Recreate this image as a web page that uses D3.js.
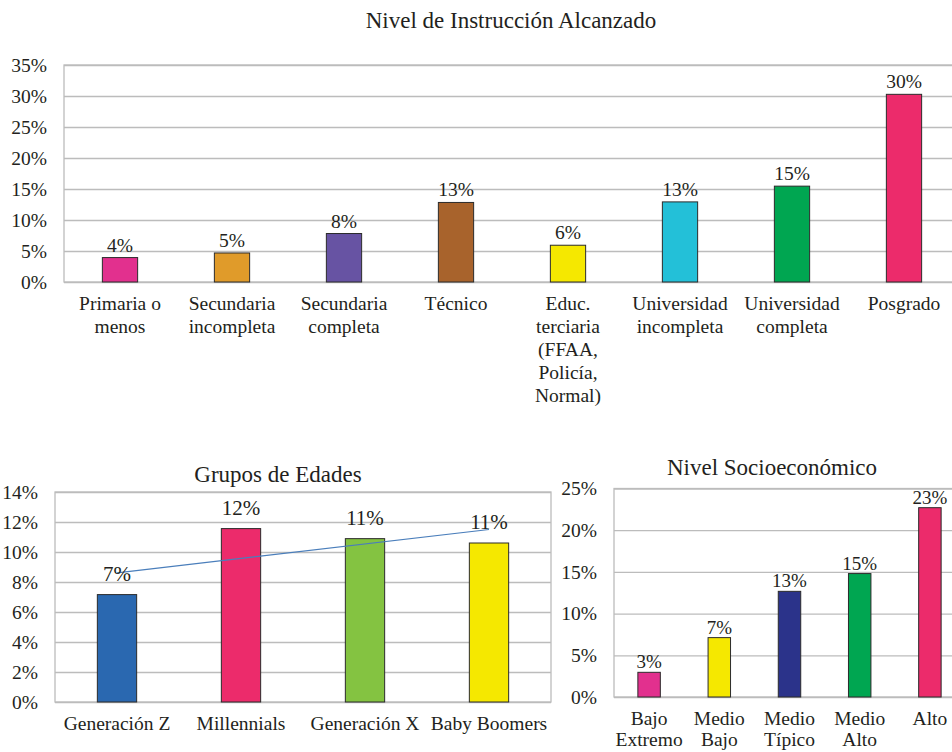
<!DOCTYPE html>
<html>

<head>
  <meta charset="utf-8">
  <title>Perfil de la muestra</title>
</head>

<style>
  body,
  html {
    margin: 0;
    padding: 0;
    background: #fff;
  }

  #svg {
    display: block;
  }
</style>

<body>

  <svg id="svg" width="952" height="752"></svg>

  <script src="https://d3js.org/d3.v7.min.js"></script>
  <script>

    // Nivel de Instrucción Alcanzado
    const eduCategories = ['Primaria o\nmenos', 'Secundaria\nincompleta', 'Secundaria\ncompleta', 'Técnico',
      'Educ.\nterciaria\n(FFAA,\nPolicía,\nNormal)', 'Universidad\nincompleta', 'Universidad\ncompleta', 'Posgrado']
    const eduValues = [0.0394, 0.0468, 0.0782, 0.1283, 0.0593, 0.1292, 0.1546, 0.3027]
    const eduColors = ['#e2308e', '#e09b2a', '#6753a3', '#a8632c', '#f5e800', '#23c0d8', '#00a651', '#ec2b6b']
    const eduMax = 0.35

    // Grupos de Edades
    const ageCategories = ['Generación Z', 'Millennials', 'Generación X', 'Baby Boomers']
    const ageValues = [0.0716, 0.1156, 0.1089, 0.1060]
    const ageColors = ['#2a68b0', '#ec2b6b', '#84c341', '#f5e800']
    const ageMax = 0.14

    // Nivel Socioeconómico
    const nseCategories = ['Bajo\nExtremo', 'Medio\nBajo', 'Medio\nTípico', 'Medio\nAlto', 'Alto']
    const nseValues = [0.0296, 0.0712, 0.1267, 0.1480, 0.2270]
    const nseColors = ['#e2308e', '#f5e800', '#2b338a', '#00a651', '#ec2b6b']
    const nseMax = 0.25

    const FONT = '"Liberation Serif"'
    const INK = '#231f20'

    const svg = d3.select('#svg')
    const pct = d3.format('.0%')

    function drawChart(o) {
      const g = svg.append('g')

      const x = d3.scaleBand()
        .domain(o.categories)
        .range([o.left, o.right])
        .paddingInner(o.pad)
        .paddingOuter(o.pad / 2)

      const y = d3.scaleLinear()
        .domain([0, o.max])
        .range([o.bottom, o.top])

      // gridlines + tick labels
      const axis = g.append('g')
        .attr('transform', `translate(${o.left},0)`)
        .call(d3.axisLeft(y)
          .ticks(o.ticks)
          .tickFormat(pct)
          .tickSizeInner(-(o.right - o.left))
          .tickSizeOuter(0)
          .tickPadding(17))
      axis.select('.domain').remove()
      axis.selectAll('line')
        .attr('stroke', '#bcbcbc')
        .attr('stroke-width', 1.3)
      axis.selectAll('text')
        .style('font-family', FONT)
        .style('font-size', o.tickSize + 'px')
        .attr('fill', INK)

      // plot border
      g.append('rect')
        .attr('x', o.left)
        .attr('y', o.top)
        .attr('width', o.right - o.left)
        .attr('height', o.bottom - o.top)
        .attr('fill', 'none')
        .attr('stroke', '#bcbcbc')
        .attr('stroke-width', 1.3)

      // bars
      g.selectAll('.bar')
        .data(o.values)
        .join('rect')
        .attr('class', 'bar')
        .attr('x', (d, i) => x(o.categories[i]))
        .attr('y', d => y(d))
        .attr('width', x.bandwidth())
        .attr('height', d => y(0) - y(d))
        .attr('fill', (d, i) => o.colors[i])
        .attr('stroke', '#2b2b2b')
        .attr('stroke-width', 1)

      // trend line (least squares over the category index)
      if (o.trend) {
        const n = o.values.length
        const mx = d3.mean(d3.range(n))
        const my = d3.mean(o.values)
        const slope = d3.sum(o.values, (v, i) => (i - mx) * (v - my)) / d3.sum(d3.range(n), i => (i - mx) * (i - mx))
        const b = my - slope * mx
        const cx = i => x(o.categories[i]) + x.bandwidth() / 2
        g.append('line')
          .attr('x1', cx(0))
          .attr('y1', y(b))
          .attr('x2', cx(n - 1))
          .attr('y2', y(b + slope * (n - 1)))
          .attr('stroke', '#4a7ebb')
          .attr('stroke-width', 1.2)
      }

      // value labels
      g.selectAll('.val')
        .data(o.values)
        .join('text')
        .attr('class', 'val')
        .attr('x', (d, i) => x(o.categories[i]) + x.bandwidth() / 2)
        .attr('y', d => y(d) - o.labelGap)
        .attr('text-anchor', 'middle')
        .attr('fill', INK)
        .style('font-family', FONT)
        .style('font-size', o.valueSize + 'px')
        .text(d => pct(d))

      // category labels (multi line)
      const cat = g.selectAll('.cat')
        .data(o.categories)
        .join('text')
        .attr('class', 'cat')
        .attr('text-anchor', 'middle')
        .attr('fill', INK)
        .style('font-family', FONT)
        .style('font-size', '19.5px')
        .attr('x', d => x(d) + x.bandwidth() / 2)
        .attr('y', o.bottom + 28)
      cat.selectAll('tspan')
        .data(d => d.split('\n').map(t => ({ t, c: d })))
        .join('tspan')
        .attr('x', d => x(d.c) + x.bandwidth() / 2)
        .attr('dy', (d, i) => i === 0 ? 0 : o.lineHeight)
        .text(d => d.t)

      // title
      g.append('text')
        .attr('x', o.titleX)
        .attr('y', o.titleY)
        .attr('text-anchor', 'middle')
        .attr('fill', INK)
        .style('font-family', FONT)
        .style('font-size', '23px')
        .text(o.title)
    }

    drawChart({
      title: 'Nivel de Instrucción Alcanzado', titleX: 511, titleY: 28,
      categories: eduCategories, values: eduValues, colors: eduColors, max: eduMax, ticks: 7,
      left: 64, right: 960, top: 65, bottom: 282, pad: 0.685,
      tickSize: 19.5, valueSize: 19.5, labelGap: 6, lineHeight: 23
    })

    drawChart({
      title: 'Grupos de Edades', titleX: 278, titleY: 482,
      categories: ageCategories, values: ageValues, colors: ageColors, max: ageMax, ticks: 7,
      left: 55, right: 551, top: 492, bottom: 702, pad: 0.683,
      tickSize: 19.5, valueSize: 21, labelGap: 14, lineHeight: 21, trend: true
    })

    drawChart({
      title: 'Nivel Socioeconómico', titleX: 772, titleY: 475,
      categories: nseCategories, values: nseValues, colors: nseColors, max: nseMax, ticks: 5,
      left: 614, right: 965, top: 488.5, bottom: 697, pad: 0.68,
      tickSize: 19.5, valueSize: 19, labelGap: 4, lineHeight: 21
    })

  </script>

</body>

</html>
